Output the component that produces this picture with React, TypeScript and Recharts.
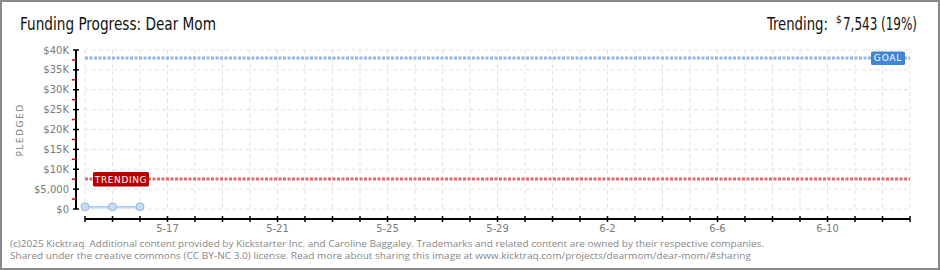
import { ComposedChart, Area, XAxis, YAxis, CartesianGrid, ReferenceLine } from 'recharts'

// day labels from 5-14 to 6-13
const days = [
  '5-14', '5-15', '5-16', '5-17', '5-18', '5-19', '5-20', '5-21', '5-22', '5-23', '5-24',
  '5-25', '5-26', '5-27', '5-28', '5-29', '5-30', '5-31', '6-1', '6-2', '6-3', '6-4',
  '6-5', '6-6', '6-7', '6-8', '6-9', '6-10', '6-11', '6-12', '6-13',
]
const xLabels = ['5-17', '5-21', '5-25', '5-29', '6-2', '6-6', '6-10']
const pledged = [550, 550, 550]
const goal = 38000
const trending = 7543
const yTicks = [0, 2500, 5000, 7500, 10000, 12500, 15000, 17500, 20000, 22500, 25000, 27500, 30000, 32500, 35000, 37500, 40000]
const yMajor = [0, 5000, 10000, 15000, 20000, 25000, 30000, 35000, 40000]
const yLabels = ['$0', '$5,000', '$10K', '$15K', '$20K', '$25K', '$30K', '$35K', '$40K']

const data = days.map((d, i) => ({ day: i, label: d, pledged: pledged[i] }))
const dayIdx = days.map((_, i) => i)

const tickFont = { fontFamily: 'DejaVu Sans', fontSize: 10, fill: '#7a7a7a' }
const headFont = "'Liberation Sans Narrow', 'DejaVu Sans Condensed', sans-serif"

function XTick({ x, y, payload }: any) {
  const label = days[payload.value]
  return (
    <g>
      <line x1={x} x2={x} y1={y + 7} y2={y + 13} stroke="#000" strokeWidth={1.5} />
      {xLabels.includes(label) && (
        <text x={x} y={y + 23} textAnchor="middle" {...tickFont}>{label}</text>
      )}
    </g>
  )
}

function YTick({ x, y, payload }: any) {
  const i = yMajor.indexOf(payload.value)
  if (i < 0) {
    return <line x1={x - 13} x2={x - 9} y1={y} y2={y} stroke="#e00000" strokeWidth={1.5} />
  }
  return (
    <g>
      <line x1={x - 12} x2={x - 6} y1={y} y2={y} stroke="#000" strokeWidth={1.5} />
      <text x={x - 16} y={y + 3.5} textAnchor="end" {...tickFont}>{yLabels[i]}</text>
    </g>
  )
}

function GoalLabel({ viewBox }: any) {
  const r = viewBox.x + viewBox.width
  return (
    <g>
      <rect x={r - 39} y={viewBox.y - 6.5} width={34} height={13.5} rx={1.5} fill="#3f86d6" />
      <text x={r - 22} y={viewBox.y + 3.5} textAnchor="middle" fontFamily="DejaVu Sans" fontSize={9} fill="#fff" letterSpacing={0.8}>GOAL</text>
    </g>
  )
}

function TrendLabel({ viewBox }: any) {
  return (
    <g>
      <rect x={viewBox.x + 8} y={viewBox.y - 7} width={56} height={14.5} rx={1.5} fill="#b90000" />
      <text x={viewBox.x + 36} y={viewBox.y + 3.5} textAnchor="middle" fontFamily="DejaVu Sans" fontSize={9} fill="#fff" letterSpacing={0.6}>TRENDING</text>
    </g>
  )
}

export default function App() {
  return (
    <div style={{ position: 'absolute', left: 0, top: 0, width: 940, height: 270, background: '#fff' }}>
      <ComposedChart width={940} height={270} data={data} margin={{ top: 50, right: 30, bottom: 31, left: 0 }}>
        <CartesianGrid horizontal={false} stroke="#e2e2e2" strokeDasharray="4 3" />
        {yMajor.map(v => (
          <ReferenceLine key={v} y={v} stroke="#e2e2e2" strokeDasharray="4 3" />
        ))}
        <XAxis
          type="number"
          dataKey="day"
          domain={[0, 30]}
          ticks={dayIdx}
          interval={0}
          height={30}
          tickLine={false}
          tickSize={0}
          tickMargin={0}
          axisLine={{ stroke: '#000', strokeWidth: 2, transform: 'translate(0,10)' }}
          tick={<XTick />}
        />
        <YAxis
          domain={[0, 40000]}
          ticks={yTicks}
          interval={0}
          width={85}
          tickLine={false}
          tickSize={0}
          tickMargin={0}
          axisLine={{ stroke: '#000', strokeWidth: 2, transform: 'translate(-9,0)' }}
          tick={<YTick />}
        />
        <ReferenceLine y={goal} stroke="#8db4e2" strokeWidth={3} strokeDasharray="3 1.5" label={<GoalLabel />} />
        <ReferenceLine y={trending} stroke="#e06a6a" strokeWidth={3} strokeDasharray="3 1.5" label={<TrendLabel />} />
        <Area
          dataKey="pledged"
          stroke="#a9c9ef"
          strokeWidth={1.5}
          fill="#dbe9f9"
          fillOpacity={1}
          dot={{ r: 4, fill: '#c6dcf4', stroke: '#96b6de', strokeWidth: 1 }}
          isAnimationActive={false}
        />
      </ComposedChart>
      <svg width={940} height={270} style={{ position: 'absolute', left: 0, top: 0, pointerEvents: 'none' }}>
        <rect x={1} y={1} width={938} height={268} fill="none" stroke="#8a8a8a" strokeWidth={2} />
        <text x={20} y={30} fontFamily={headFont} fontSize={17} fill="#111" textLength={196} lengthAdjust="spacingAndGlyphs">
          Funding Progress: Dear Mom
        </text>
        <text x={767} y={30} fontFamily={headFont} fontSize={17} fill="#111" textLength={61} lengthAdjust="spacingAndGlyphs">
          Trending:
        </text>
        <text x={836} y={23} fontFamily={headFont} fontSize={10} fill="#111">$</text>
        <text x={843} y={30} fontFamily={headFont} fontSize={17} fill="#111" textLength={74} lengthAdjust="spacingAndGlyphs">
          7,543 (19%)
        </text>
        <text transform="translate(23,130) rotate(-90)" textAnchor="middle" fontFamily="DejaVu Sans" fontSize={9} fill="#7a7a7a" letterSpacing={1.5}>
          PLEDGED
        </text>
        <text x={10} y={246.5} fontFamily="'Open Sans', sans-serif" fontSize={8.8} fill="#888" textLength={754} lengthAdjust="spacingAndGlyphs">
          (c)2025 Kicktraq. Additional content provided by Kickstarter Inc. and Caroline Baggaley. Trademarks and related content are owned by their respective companies.
        </text>
        <text x={10} y={258.5} fontFamily="'Open Sans', sans-serif" fontSize={8.8} fill="#888" textLength={741} lengthAdjust="spacingAndGlyphs">
          Shared under the creative commons (CC BY-NC 3.0) license. Read more about sharing this image at www.kicktraq.com/projects/dearmom/dear-mom/#sharing
        </text>
      </svg>
    </div>
  )
}
